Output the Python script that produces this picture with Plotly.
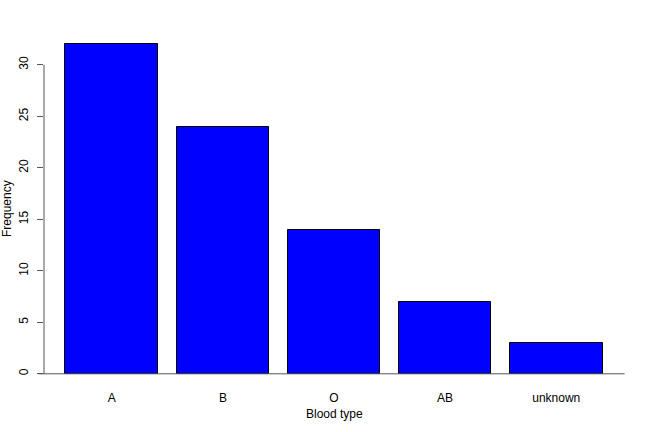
import plotly.graph_objects as go

categories = ["A", "B", "O", "AB", "unknown"]
counts = [32, 24, 14, 7, 3]
y_ticks = [0, 5, 10, 15, 20, 25, 30]

width = 1.0
space = 0.2
centers = [space + width / 2 + i * (width + space) for i in range(len(categories))]
x_lo = space
x_hi = centers[-1] + width / 2
ext = (x_hi - x_lo) * 0.04
y_ext = max(counts) * 0.04

fig = go.Figure()
fig.add_trace(go.Bar(
    x=centers, y=counts, width=width,
    marker=dict(color="#0000FF", line=dict(color="black", width=1)),
    showlegend=False, hoverinfo="skip",
))

axis_col = "#555555"
font = dict(family="Liberation Sans, Arial, sans-serif", size=12, color="black")

fig.update_layout(
    width=648, height=432,
    margin=dict(l=44, r=24, t=31, b=45),
    paper_bgcolor="white", plot_bgcolor="white",
    font=font,
    bargap=0,
    xaxis=dict(
        range=[x_lo - ext, x_hi + ext],
        tickvals=centers, ticktext=categories,
        showgrid=False, zeroline=False, showline=False,
        ticks="", ticklabelstandoff=2, automargin=False,
    ),
    yaxis=dict(
        range=[-y_ext, max(counts) + y_ext],
        tickvals=y_ticks, ticktext=[str(v) for v in y_ticks],
        tickangle=-90,
        showgrid=False, zeroline=False, showline=False,
        ticks="outside", ticklen=6, tickcolor=axis_col, tickwidth=1,
        ticklabelstandoff=4, automargin=False,
    ),
    annotations=[
        dict(text="Blood type", xref="paper", yref="paper", x=0.5, y=-0.0, yshift=-27,
             showarrow=False, xanchor="center", yanchor="middle", font=font),
        dict(text="Frequency", xref="paper", yref="paper", x=0, y=0.5, xshift=-37,
             textangle=-90, showarrow=False, xanchor="center", yanchor="middle", font=font),
    ],
)

# y axis line spanning the tick range (R style)
fig.add_shape(type="line", xref="paper", yref="y", x0=0, x1=0,
              y0=min(y_ticks), y1=max(y_ticks),
              line=dict(color=axis_col, width=1))
# horizontal baseline at 0
fig.add_shape(type="line", xref="paper", yref="y", x0=-0.0095, x1=1.001,
              y0=0, y1=0, line=dict(color=axis_col, width=1))

fig.write_html("out.html", config={"displayModeBar": False},
               post_script="document.body.style.margin='0';")
